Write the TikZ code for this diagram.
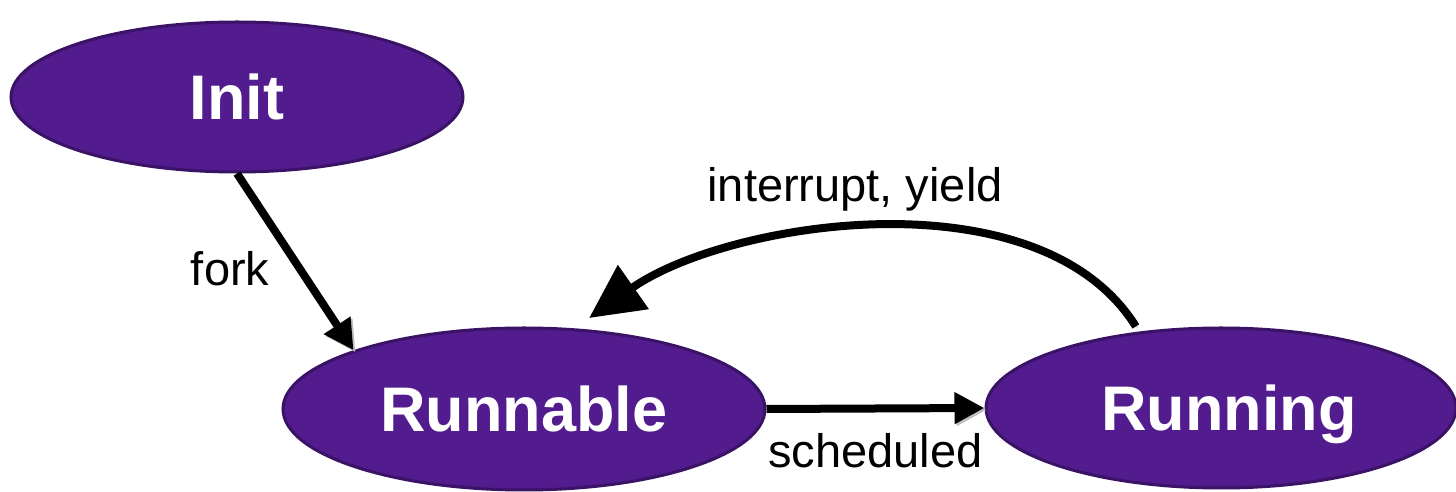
\documentclass[tikz,border=0pt]{standalone}
\usepackage{fontspec}
\setmainfont{Liberation Sans}
\usetikzlibrary{positioning,shapes.geometric,arrows.meta}

\definecolor{statefill}{RGB}{82,28,142}
\definecolor{stateline}{RGB}{58,18,102}

\tikzset{
  state/.style={ellipse, draw=stateline, line width=1.5pt, fill=statefill,
    text=white, inner sep=0pt, text height=22.5pt, text depth=0pt,
    font=\fontsize{31.5}{36}\selectfont\bfseries},
  trans/.style={line width=4pt, -{Triangle[length=15pt,width=15pt]},
    preaction={draw=black!25, transform canvas={shift={(1pt,-1pt)}}}},
  lbl/.style={font=\fontsize{23.5}{28}\selectfont}
}

\begin{document}
\begin{tikzpicture}[x=0.5pt,y=0.5pt]
            \useasboundingbox (0,0) rectangle (1456,492);

            \node[state, minimum width=226pt, minimum height=75pt] (init)     at (237,395)  {Init};
            \node[state, minimum width=241pt, minimum height=81pt] (runnable) at (524,83)   {Runnable};
            \node[state, minimum width=235pt, minimum height=80pt] (running)  at (1221,84)  {\hspace*{8pt}Running};

            \draw[trans] (init.south) -- node[lbl, left=10pt, pos=0.54] (fork) {fork} (runnable.161);
            \draw[trans] (runnable.east) -- node[lbl, below=7pt] (sched) {scheduled} (running.west);
            \draw[trans, -{Triangle[length=27pt,width=26pt]}, shorten >=9pt, shorten <=3pt]
                  (running.137) to[out=122, in=35, looseness=0.85]
                  node[lbl, above=4pt, xshift=-11pt] (intr) {interrupt, yield} (runnable.58);
        \end{tikzpicture}
\end{document}
